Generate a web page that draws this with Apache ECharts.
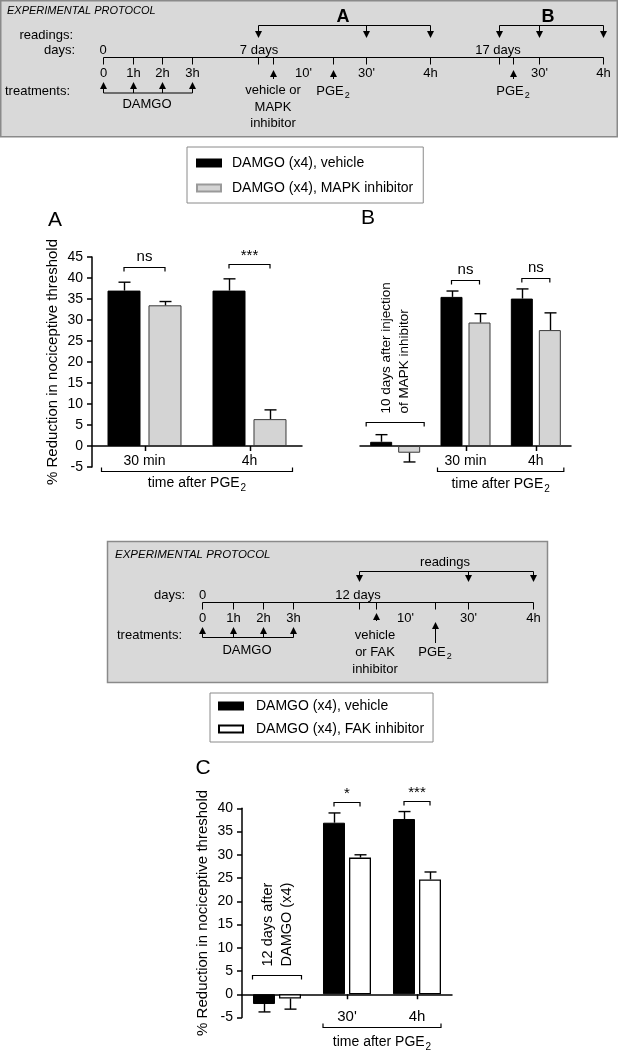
<!DOCTYPE html>
<html><head><meta charset="utf-8">
<script src="https://cdn.jsdelivr.net/npm/echarts@6/dist/echarts.min.js"></script>
<style>html,body{margin:0;padding:0;background:#fff}#c{width:619px;height:1050px}</style>
</head><body><div id="c"></div>
<script>
const FONT = '"Liberation Sans", Arial, Helvetica, sans-serif';

// ---------------- data ----------------
const seriesNames = ['DAMGO (x4), vehicle', 'DAMGO (x4), MAPK inhibitor', 'DAMGO (x4), FAK inhibitor'];

const catA = ['30 min', '4h'];
const vehA = [37.0, 37.0];
const vehSemA = [2.0, 2.8];
const mapkA = [33.5, 6.4];
const mapkSemA = [0.9, 2.2];
const sigA = ['ns', '***'];

const catB = ['', '30 min', '4h'];
const vehB = [1.0, 35.5, 35.1];
const vehSemB = [1.7, 1.4, 2.3];
const mapkB = [-1.6, 29.4, 27.6];
const mapkSemB = [2.2, 2.1, 4.1];
const sigB = ['', 'ns', 'ns'];
const baselineNoteB = '10 days after injection\nof MAPK inhibitor';

const catC = ['', "30'", '4h'];
const vehC = [-2.1, 36.9, 37.7];
const vehSemC = [1.7, 2.1, 1.6];
const fakC = [-0.9, 29.4, 24.7];
const fakSemC = [2.3, 0.6, 1.6];
const sigC = ['', '*', '***'];
const baselineNoteC = '12 days after\nDAMGO (x4)';

const yMinAB = -5, yMaxAB = 45;
const yMinC = -5, yMaxC = 40;
const yStep = 5;
const xTitleMain = 'time after PGE', xTitleSub = '2';
const yTitle = '% Reduction in nociceptive threshold';

// ---------------- helpers ----------------
const mctx = document.createElement('canvas').getContext('2d');
function tw(s, size, weight, style) {
  mctx.font = (style || 'normal') + ' ' + (weight || 'normal') + ' ' + size + 'px ' + FONT;
  return mctx.measureText(s).width;
}
function T(x, y, text, o) {
  o = o || {};
  const al = o.align || 'center', va = o.va || 'middle';
  return {type: 'text', x: x, y: y, rotation: o.rotation || 0, z: 10,
    style: {text: text, fontSize: o.size || 13, fontFamily: FONT, fontWeight: o.weight || 'normal',
      fontStyle: o.style || 'normal', fill: '#000', align: al, textAlign: al,
      verticalAlign: va, textVerticalAlign: va, lineHeight: o.lh || undefined}};
}
function subText(cx, cy, main, sub, size) {
  const s2 = Math.round(size * 0.72);
  const w1 = tw(main, size), w2 = tw(sub, s2);
  const x0 = cx - (w1 + 1 + w2) / 2;
  return [T(x0, cy, main, {size: size, align: 'left'}),
          T(x0 + w1 + 1, cy + size * 0.32, sub, {size: s2, align: 'left'})];
}
function L(x1, y1, x2, y2, w) {
  return {type: 'line', z: 10, shape: {x1: x1, y1: y1, x2: x2, y2: y2}, style: {stroke: '#000', lineWidth: w || 1}};
}
function tri(pts) { return {type: 'polygon', z: 10, shape: {points: pts}, style: {fill: '#000'}}; }
function arrowDown(x, y1, tip) { return [L(x, y1, x, tip - 5), tri([[x - 3.5, tip - 7], [x + 3.5, tip - 7], [x, tip]])]; }
function arrowUp(x, y1, tip) { return [L(x, y1, x, tip + 5), tri([[x - 3.5, tip + 7], [x + 3.5, tip + 7], [x, tip]])]; }

// ---------------- protocol panels (graphic) ----------------
function protocol1() {
  const e = [];
  e.push({type: 'rect', z: 1, shape: {x: 0.75, y: 0.75, width: 616.5, height: 136}, style: {fill: '#d9d9d9', stroke: '#8a8a8a', lineWidth: 1.5}});
  e.push(T(7, 11, 'EXPERIMENTAL PROTOCOL', {size: 11, style: 'italic', align: 'left'}));
  e.push(T(343, 17, 'A', {size: 18, weight: 'bold'}));
  e.push(T(548, 17, 'B', {size: 18, weight: 'bold'}));
  e.push(T(73, 35, 'readings:', {align: 'right'}));
  e.push(T(75, 50, 'days:', {align: 'right'}));
  e.push(T(70, 91, 'treatments:', {align: 'right'}));
  e.push(T(103, 50, '0'));
  e.push(T(259, 50, '7 days'));
  e.push(T(498, 50, '17 days'));
  e.push(L(258.5, 25.5, 430.5, 25.5));
  [258.5, 366.5, 430.5].forEach(x => e.push(...arrowDown(x, 25.5, 38)));
  e.push(L(499.5, 25.5, 603.5, 25.5));
  [499.5, 539.5, 603.5].forEach(x => e.push(...arrowDown(x, 25.5, 38)));
  e.push(L(103.5, 57.5, 603.5, 57.5));
  [103, 133, 162, 192, 258, 273, 333, 366, 430, 499, 513, 539, 603].forEach(x => e.push(L(x + 0.5, 57.5, x + 0.5, 64.5)));
  [['0', 103], ['1h', 133], ['2h', 162], ['3h', 192], ["10'", 303], ["30'", 366], ['4h', 430], ["30'", 539], ['4h', 603]]
    .forEach(p => e.push(T(p[1] + 0.5, 73, p[0])));
  [103, 133, 162, 192].forEach(x => e.push(...arrowUp(x + 0.5, 93, 82)));
  e.push(L(103.5, 93, 192.5, 93));
  e.push(T(147, 104, 'DAMGO'));
  e.push(...arrowUp(273.5, 79, 70));
  e.push(T(273, 90, 'vehicle or'));
  e.push(T(273, 107, 'MAPK'));
  e.push(T(273, 123, 'inhibitor'));
  e.push(...arrowUp(333.5, 79, 70));
  e.push(...subText(333, 91, 'PGE', '2', 13));
  e.push(...arrowUp(513.5, 79, 70));
  e.push(...subText(513, 91, 'PGE', '2', 13));
  return e;
}
function protocol2() {
  const e = [];
  e.push({type: 'rect', z: 1, shape: {x: 107.5, y: 541.5, width: 440, height: 141}, style: {fill: '#d9d9d9', stroke: '#8a8a8a', lineWidth: 1.5}});
  e.push(T(115, 555, 'EXPERIMENTAL PROTOCOL', {size: 11.5, style: 'italic', align: 'left'}));
  e.push(T(445, 562, 'readings'));
  e.push(L(359.5, 571.5, 533.5, 571.5));
  [359.5, 468.5, 533.5].forEach(x => e.push(...arrowDown(x, 571.5, 582)));
  e.push(T(185, 595, 'days:', {align: 'right'}));
  e.push(T(202.5, 595, '0'));
  e.push(T(358, 595, '12 days'));
  e.push(L(202.5, 602.5, 533.5, 602.5));
  [202, 233, 263, 293, 359, 376, 435, 468, 533].forEach(x => e.push(L(x + 0.5, 602.5, x + 0.5, 609.5)));
  [['0', 202], ['1h', 233], ['2h', 263], ['3h', 293], ["10'", 405], ["30'", 468], ['4h', 533]]
    .forEach(p => e.push(T(p[1] + 0.5, 618, p[0])));
  [202, 233, 263, 293].forEach(x => e.push(...arrowUp(x + 0.5, 637.5, 627)));
  e.push(L(202.5, 637.5, 293.5, 637.5));
  e.push(T(182, 635, 'treatments:', {align: 'right'}));
  e.push(T(247, 650, 'DAMGO'));
  e.push(...arrowUp(376.5, 621, 613));
  e.push(T(375, 635, 'vehicle'));
  e.push(T(375, 652, 'or FAK'));
  e.push(T(375, 669, 'inhibitor'));
  e.push(...arrowUp(435.5, 643, 622));
  e.push(...subText(435, 652, 'PGE', '2', 13));
  return e;
}

// ---------------- chart series builders ----------------
const P = [
  {barW: 33, gapPx: 8, botPad: 6, botDy: 25, botTextDy: 12, sigDy: 15, labelDy: 15, labelSize: 14},
  {barW: 22, gapPx: 6, botPad: 3, botDy: 24.5, botTextDy: 13, sigDy: 11, labelDy: 15, labelSize: 14, basePad: 4, baseDy: 13, noteSize: 13.5, noteLh: 18, note: baselineNoteB},
  {barW: 22, gapPx: 4, botPad: 0, botDy: 32.7, botTextDy: 15, sigDy: 11, labelDy: 22.7, labelSize: 15, basePad: 0.5, baseDy: 13, noteSize: 14.5, noteLh: 19, note: baselineNoteC}
];

function barSeries(ax, name, data, color, border, bw) {
  const p = P[ax];
  return {type: 'bar', name: name, xAxisIndex: ax, yAxisIndex: ax, data: data, barWidth: p.barW,
    barGap: (p.gapPx / p.barW * 100).toFixed(1) + '%', z: 2, silent: true,
    itemStyle: {color: color, borderColor: border, borderWidth: bw}};
}
function errSeries(ax, vals, sems, sign) {
  const p = P[ax], off = sign * (p.barW + p.gapPx) / 2;
  return {type: 'custom', xAxisIndex: ax, yAxisIndex: ax, silent: true, z: 4, clip: false,
    data: vals.map((v, i) => [i, v, sems[i]]), encode: {x: 0, y: 1},
    renderItem(params, api) {
      const i = api.value(0), v = api.value(1), e = api.value(2);
      const p0 = api.coord([i, v]), p1 = api.coord([i, v + (v >= 0 ? e : -e)]);
      const x = Math.round(p0[0] + off) + 0.5;
      return {type: 'group', children: [
        {type: 'line', shape: {x1: x, y1: p0[1], x2: x, y2: p1[1]}, style: {stroke: '#000', lineWidth: 1.4}},
        {type: 'line', shape: {x1: x - 6, y1: p1[1], x2: x + 6, y2: p1[1]}, style: {stroke: '#000', lineWidth: 1.4}}
      ]};
    }};
}
function sigSeries(ax, v1, e1, v2, e2, labels) {
  const p = P[ax], off = (p.barW + p.gapPx) / 2;
  const data = [];
  labels.forEach((l, i) => { if (l) data.push([i, Math.max(v1[i] + e1[i], v2[i] + e2[i])]); });
  return {type: 'custom', xAxisIndex: ax, yAxisIndex: ax, silent: true, z: 4, clip: false,
    data: data, encode: {x: 0, y: 1},
    renderItem(params, api) {
      const i = api.value(0);
      const lab = labels[i];
      const top = api.coord([i, api.value(1)]);
      const y = Math.round(top[1] - p.sigDy) + 0.5, x1 = top[0] - off, x2 = top[0] + off;
      const star = lab.indexOf('*') >= 0;
      return {type: 'group', children: [
        {type: 'polyline', shape: {points: [[x1, y + 4], [x1, y], [x2, y], [x2, y + 4]]}, style: {stroke: '#000', lineWidth: 1.2, fill: null}},
        {type: 'text', x: (x1 + x2) / 2, y: star ? y - 1 : y - 3,
          style: {text: lab, fontSize: 15, fontFamily: FONT, fill: '#000', align: 'center', textAlign: 'center', verticalAlign: 'bottom', textVerticalAlign: 'bottom'}}
      ]};
    }};
}
function baseSeries(ax, cats, v1, e1, v2, e2) {
  const p = P[ax], off = (p.barW + p.gapPx) / 2;
  const data = [];
  cats.forEach((c, i) => { if (c === '') data.push([i, Math.max(0, v1[i] + e1[i], v2[i] + e2[i])]); });
  return {type: 'custom', xAxisIndex: ax, yAxisIndex: ax, silent: true, z: 4, clip: false,
    data: data, encode: {x: 0, y: 1},
    renderItem(params, api) {
      const i = api.value(0);
      const top = api.coord([i, api.value(1)]);
      const y = Math.round(top[1] - p.baseDy) + 0.5;
      const x1 = top[0] - off - p.barW / 2 - p.basePad, x2 = top[0] + off + p.barW / 2 + p.basePad;
      return {type: 'group', children: [
        {type: 'polyline', shape: {points: [[x1, y + 4], [x1, y], [x2, y], [x2, y + 4]]}, style: {stroke: '#000', lineWidth: 1.2, fill: null}},
        {type: 'text', x: top[0], y: y - 9, rotation: Math.PI / 2,
          style: {text: p.note, fontSize: p.noteSize, lineHeight: p.noteLh, fontFamily: FONT, fill: '#000',
            align: 'left', textAlign: 'left', verticalAlign: 'middle', textVerticalAlign: 'middle'}}
      ]};
    }};
}
// category labels + ticks, attached to the zero line
function xLabelSeries(ax, cats) {
  const p = P[ax];
  const data = [];
  cats.forEach((c, i) => { if (c !== '') data.push([i, 0]); });
  return {type: 'custom', xAxisIndex: ax, yAxisIndex: ax, silent: true, z: 4, clip: false,
    data: data, encode: {x: 0, y: 1},
    renderItem(params, api) {
      const i = api.value(0);
      const c = api.coord([i, 0]);
      const x = Math.round(c[0]) + 0.5;
      return {type: 'group', children: [
        {type: 'line', shape: {x1: x, y1: c[1], x2: x, y2: c[1] + 5}, style: {stroke: '#000', lineWidth: 1.5}},
        {type: 'text', x: c[0], y: c[1] + p.labelDy,
          style: {text: cats[i], fontSize: p.labelSize, fontFamily: FONT, fill: '#000', align: 'center', textAlign: 'center', verticalAlign: 'middle', textVerticalAlign: 'middle'}}
      ]};
    }};
}
function bottomSeries(ax, cats) {
  const p = P[ax], off = (p.barW + p.gapPx) / 2;
  const idx = cats.map((c, i) => c !== '' ? i : -1).filter(i => i >= 0);
  return {type: 'custom', xAxisIndex: ax, yAxisIndex: ax, silent: true, z: 4, clip: false,
    data: [[idx[0], idx[idx.length - 1]]], encode: {x: 0, y: 1},
    renderItem(params, api) {
      const a = api.coord([api.value(0), 0]), b = api.coord([api.value(1), 0]);
      const x1 = a[0] - off - p.barW / 2 - p.botPad, x2 = b[0] + off + p.barW / 2 + p.botPad;
      const y = Math.round(a[1] + p.botDy) + 0.5;
      const st = subText((x1 + x2) / 2, y + p.botTextDy, xTitleMain, xTitleSub, 14)
        .map(t => ({type: 'text', x: t.x, y: t.y, style: t.style}));
      return {type: 'group', children: [
        {type: 'polyline', shape: {points: [[x1, y - 4], [x1, y], [x2, y], [x2, y - 4]]}, style: {stroke: '#000', lineWidth: 1.2, fill: null}}
      ].concat(st)};
    }};
}

const axisLineStyle = {color: '#000', width: 1.5};
function xAx(ax, cats) {
  return {gridIndex: ax, type: 'category', data: cats,
    axisLine: {onZero: true, lineStyle: axisLineStyle},
    axisTick: {show: false}, axisLabel: {show: false}, splitLine: {show: false}};
}
function yAx(ax, min, max, show) {
  return {gridIndex: ax, type: 'value', min: min, max: max, interval: yStep, show: show,
    axisLine: {show: true, lineStyle: axisLineStyle},
    axisTick: {show: true, length: 5, lineStyle: axisLineStyle},
    axisLabel: {color: '#000', fontSize: 14, fontFamily: FONT, margin: 9},
    splitLine: {show: false},
    name: show ? yTitle : '', nameLocation: 'middle', nameGap: 32,
    nameTextStyle: {fontSize: 15, fontFamily: FONT, color: '#000'}};
}

const legendCommon = {orient: 'vertical', icon: 'rect', itemWidth: 24, itemHeight: 7, selectedMode: false,
  borderColor: '#8a8a8a', borderWidth: 1, backgroundColor: '#fff'};

const option = {
  animation: false,
  backgroundColor: '#fff',
  textStyle: {fontFamily: FONT},
  grid: [
    {left: 92, top: 257, width: 210, height: 210},
    {left: 360, top: 257, width: 211, height: 210},
    {left: 242, top: 808.3, width: 210, height: 209.2}
  ],
  xAxis: [xAx(0, catA), xAx(1, catB), xAx(2, catC)],
  yAxis: [yAx(0, yMinAB, yMaxAB, true), yAx(1, yMinAB, yMaxAB, false), yAx(2, yMinC, yMaxC, true)],
  legend: [
    Object.assign({}, legendCommon, {left: 187, top: 147, itemGap: 11, padding: [9, 10, 8, 9],
      data: [{name: seriesNames[0]}, {name: seriesNames[1], itemStyle: {borderColor: '#9a9a9a'}}],
      textStyle: {fontSize: 14, fontFamily: FONT, color: '#000', padding: [0, 0, 0, 6]}}),
    Object.assign({}, legendCommon, {left: 210, top: 693, itemGap: 9, padding: [6, 9, 6, 8],
      data: [seriesNames[0], seriesNames[2]],
      textStyle: {fontSize: 14, fontFamily: FONT, color: '#000', padding: [0, 0, 0, 8]}})
  ],
  series: [
    barSeries(0, seriesNames[0], vehA, '#000', '#000', 1),
    barSeries(0, seriesNames[1], mapkA, '#d4d4d4', '#3a3a3a', 1),
    errSeries(0, vehA, vehSemA, -1), errSeries(0, mapkA, mapkSemA, 1),
    sigSeries(0, vehA, vehSemA, mapkA, mapkSemA, sigA),
    xLabelSeries(0, catA),
    bottomSeries(0, catA),

    barSeries(1, seriesNames[0], vehB, '#000', '#000', 1),
    barSeries(1, seriesNames[1], mapkB, '#d4d4d4', '#3a3a3a', 1),
    errSeries(1, vehB, vehSemB, -1), errSeries(1, mapkB, mapkSemB, 1),
    sigSeries(1, vehB, vehSemB, mapkB, mapkSemB, sigB),
    baseSeries(1, catB, vehB, vehSemB, mapkB, mapkSemB),
    xLabelSeries(1, catB),
    bottomSeries(1, catB),

    barSeries(2, seriesNames[0], vehC, '#000', '#000', 1),
    barSeries(2, seriesNames[2], fakC, '#fff', '#000', 1.3),
    errSeries(2, vehC, vehSemC, -1), errSeries(2, fakC, fakSemC, 1),
    sigSeries(2, vehC, vehSemC, fakC, fakSemC, sigC),
    baseSeries(2, catC, vehC, vehSemC, fakC, fakSemC),
    xLabelSeries(2, catC),
    bottomSeries(2, catC)
  ],
  graphic: {elements: [].concat(protocol1(), protocol2(), [
    T(55, 220, 'A', {size: 21}),
    T(368, 218, 'B', {size: 21}),
    T(203, 768, 'C', {size: 21})
  ])}
};

const chart = echarts.init(document.getElementById('c'), null, {renderer: 'canvas'});
chart.setOption(option);
</script>
</body></html>
